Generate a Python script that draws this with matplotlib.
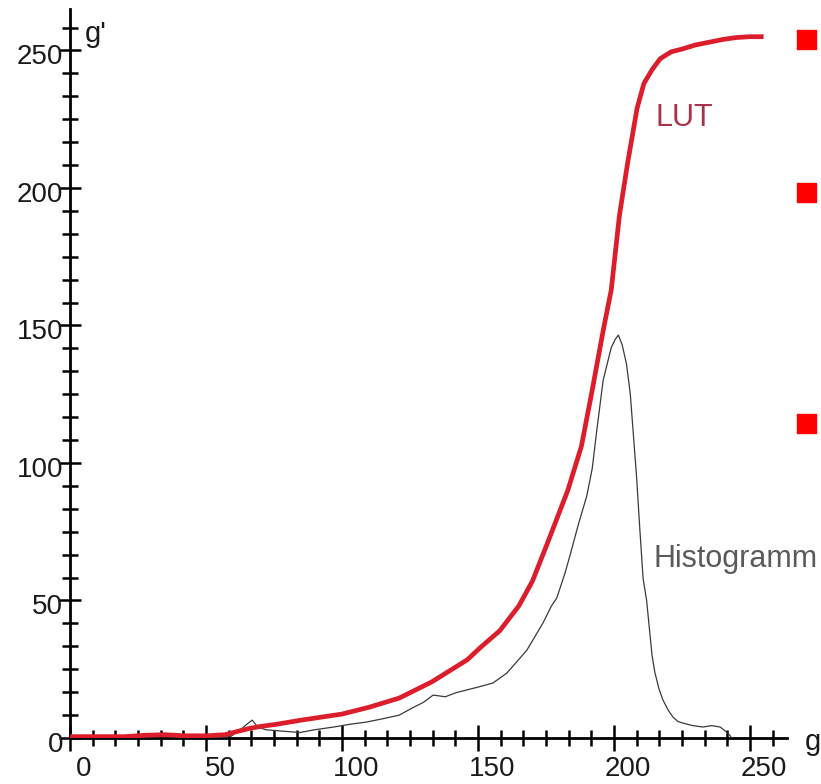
import numpy as np
import matplotlib
matplotlib.use('Agg')
import matplotlib.pyplot as plt
from matplotlib.patches import Rectangle

plt.rcParams['font.family'] = ['Liberation Sans', 'DejaVu Sans']

# LUT curve (grey value g -> g')
lut_x = [0, 10, 20, 28, 35, 42, 50, 57, 62, 66, 70, 76, 85, 100, 110, 121, 133, 146, 151,
         158, 165, 170, 175, 183, 188, 192, 196, 199, 202, 205, 208.5, 211, 214, 217, 221,
         225, 230, 235, 240, 245, 250, 255]
lut_y = [0.5, 0.5, 0.5, 1.0, 1.2, 0.8, 0.8, 1.2, 2.5, 3.5, 4.2, 5, 6.5, 8.7, 11.2, 14.5, 20.4,
         28.4, 33, 39, 48, 57, 69.5, 90, 106, 126.5, 148, 163, 190, 209, 229, 238, 243, 247,
         249.5, 250.5, 252, 253, 254, 254.7, 255, 255]

# histogram outline (scaled)
hist_x = [0, 10, 20, 25, 30, 35, 40, 45, 50, 55, 59, 62, 65, 67, 69, 72, 78, 84.5, 90, 97,
          103, 109, 115, 121, 126, 130, 133.5, 138, 142, 146, 150, 155.5, 160.6, 165.4, 168,
          171, 174, 177, 179, 182, 184, 187, 190, 192, 193.7, 196, 198, 199, 200.5, 201.6,
          203, 204.6, 206, 207, 208.3, 209.5, 210.7, 212, 213, 214, 215, 216.5, 218, 220,
          221.7, 223.5, 225.4, 229, 232.7, 236, 239, 241, 242.6, 243]
hist_y = [0.3, 0.5, 0.3, 0.5, 1.2, 0.8, 0.5, 0.3, 0.3, 0.3, 0.5, 2.5, 5, 6.5, 4, 3, 2.5, 2,
          3, 4, 5, 5.8, 7, 8.3, 11, 13, 15.6, 15, 16.5, 17.5, 18.5, 20, 23.6, 29, 32, 37, 42,
          48, 51, 60, 67, 78, 88, 98, 112, 130, 138, 142, 145, 146.5, 143, 136, 125, 112, 95,
          76, 58, 50, 40, 30, 24, 18, 13.8, 10, 7.6, 6, 5.4, 4.5, 4, 4.5, 4, 2.5, 1, 0.3]

major = [0, 50, 100, 150, 200, 250]
minor = np.arange(0, 265, 50 / 6)

fig = plt.figure(figsize=(8.21, 7.84), dpi=100)
ax = fig.add_axes([70 / 821, 46 / 784, 716.7 / 821, 728.8 / 784])
ax.set_xlim(0, 263.5)
ax.set_ylim(0, 265)

ax.plot(hist_x, hist_y, color='#3a3a3a', lw=0.9, zorder=3)
ax.plot(lut_x, lut_y, color='#dc1e2c', lw=3.4, zorder=4, solid_capstyle='butt')

for s in ['top', 'right']:
    ax.spines[s].set_visible(False)
for s in ['left', 'bottom']:
    ax.spines[s].set_linewidth(2)

ax.set_xticks(major)
ax.set_yticks(major)
ax.set_xticks(minor, minor=True)
ax.set_yticks(minor, minor=True)
ax.set_xticklabels([])
ax.set_yticklabels([])
ax.tick_params(axis='x', which='major', direction='inout', length=19, width=1.8)
ax.tick_params(axis='x', which='minor', direction='inout', length=11.5, width=1.8)
ax.tick_params(axis='y', which='major', direction='inout', length=16, width=1.8)
ax.tick_params(axis='y', which='minor', direction='inout', length=11.5, width=1.8)

for v in major:
    ax.annotate(str(v), xy=(v, 0), xytext=(14, -18), textcoords='offset pixels',
                ha='center', va='top', fontsize=20, color='#1a1a1a', annotation_clip=False)
    ax.annotate(str(v), xy=(0, v), xytext=(-7, -7), textcoords='offset pixels',
                ha='right', va='center', fontsize=20, color='#1a1a1a', annotation_clip=False)

ax.text(5.5, 253, "g'", fontsize=21, color='#1a1a1a', va='baseline', ha='left')
ax.text(270, -4.4, 'g', fontsize=21, color='#1a1a1a', va='baseline', ha='left', clip_on=False)
ax.text(215.4, 222.5, 'LUT', fontsize=22, color='#a8324a', va='baseline', ha='left')
ax.text(214.7, 62.2, 'Histogramm', fontsize=22, color='#5a5a5a', va='baseline', ha='left',
        clip_on=False)

# red markers at the right margin
for top in [30, 183, 414]:
    fig.patches.append(Rectangle((797 / 821, 1 - (top + 19) / 784), 19 / 821, 19 / 784,
                                 transform=fig.transFigure, color='#ff0000'))

fig.savefig('out.png', dpi=100)
